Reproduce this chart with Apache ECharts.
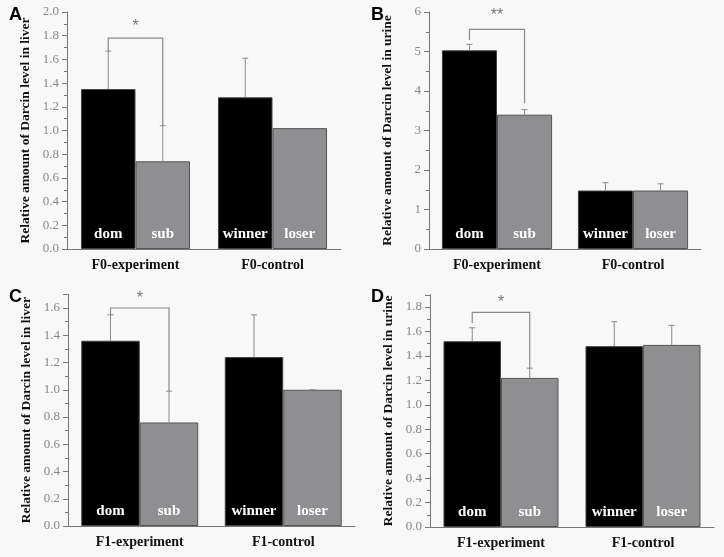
<!DOCTYPE html>
<html><head><meta charset="utf-8">
<script src="https://cdn.jsdelivr.net/npm/echarts@6/dist/echarts.min.js"></script>
<style>html,body{margin:0;padding:0;background:#f8f8f8}#c{width:724px;height:557px}</style>
</head><body><div id="c"></div>
<script>
// ---- data ----
const categoriesF0 = ['F0-experiment', 'F0-control'];
const categoriesF1 = ['F1-experiment', 'F1-control'];
const blackLabels = ['dom', 'winner'];
const grayLabels = ['sub', 'loser'];

// Panel A: F0 liver
const liverF0Black = [1.35, 1.28];
const liverF0BlackErr = [1.67, 1.61];
const liverF0Gray = [0.74, 1.02];
const liverF0GrayErr = [1.04, null];
// Panel B: F0 urine
const urineF0Black = [5.03, 1.48];
const urineF0BlackErr = [5.18, 1.68];
const urineF0Gray = [3.40, 1.48];
const urineF0GrayErr = [3.53, 1.65];
// Panel C: F1 liver
const liverF1Black = [1.36, 1.24];
const liverF1BlackErr = [1.55, 1.55];
const liverF1Gray = [0.76, 1.00];
const liverF1GrayErr = [0.99, 1.00];
// Panel D: F1 urine
const urineF1Black = [1.52, 1.48];
const urineF1BlackErr = [1.63, 1.68];
const urineF1Gray = [1.22, 1.49];
const urineF1GrayErr = [1.30, 1.65];

// significance brackets: [left leg end, right leg end, bracket top, star height]
const bracketA = [1.67, 1.04, 1.78, 1.88];
const bracketB = [5.29, 3.69, 5.56, 5.90];
const bracketC = [1.55, 0.99, 1.60, 1.67];
const bracketD = [1.67, 1.30, 1.757, 1.835];
const starText = ['*', '**', '*', '*'];

// y axis ranges (max, interval, whether the max is a labelled tick)
const yMax = [2.0, 6, 1.7, 1.9];
const yInterval = [0.2, 1, 0.2, 0.2];
const yMaxLabelled = [true, true, false, false];
const yNames = [
  'Relative amount of Darcin level in liver',
  'Relative amount of Darcin level in urine',
  'Relative amount of Darcin level in liver',
  'Relative amount of Darcin level in urine'
];
const panelLetters = ['A', 'B', 'C', 'D'];

// ---- layout ----
const grids = [
  {left: 67, top: 12, width: 274, height: 237},
  {left: 429, top: 12, width: 272, height: 237},
  {left: 68, top: 294.4, width: 287, height: 231.6},
  {left: 430, top: 294.8, width: 284, height: 232.2}
];
const gaps = [0.204, 0.19, 0.185, 0.19];
const letterPos = [[9, 6], [371, 6], [9, 288], [371, 288]];

const panels = [
  {cats: categoriesF0, b: liverF0Black, be: liverF0BlackErr, g: liverF0Gray, ge: liverF0GrayErr, br: bracketA},
  {cats: categoriesF0, b: urineF0Black, be: urineF0BlackErr, g: urineF0Gray, ge: urineF0GrayErr, br: bracketB},
  {cats: categoriesF1, b: liverF1Black, be: liverF1BlackErr, g: liverF1Gray, ge: liverF1GrayErr, br: bracketC},
  {cats: categoriesF1, b: urineF1Black, be: urineF1BlackErr, g: urineF1Gray, ge: urineF1GrayErr, br: bracketD}
];

const serif = 'Liberation Serif';
const option = {
  backgroundColor: '#f8f8f8',
  animation: false,
  grid: grids.map(g => Object.assign({containLabel: false}, g)),
  graphic: panelLetters.map((t, i) => ({
    type: 'text', left: letterPos[i][0], top: letterPos[i][1],
    style: {text: t, font: 'bold 18px Liberation Sans', fill: '#000'}
  })),
  xAxis: [], yAxis: [], series: []
};

panels.forEach((p, i) => {
  option.xAxis.push({
    type: 'category', gridIndex: i, data: p.cats,
    axisLine: {lineStyle: {color: '#777', width: 1}},
    axisTick: {show: false},
    axisLabel: {fontFamily: serif, fontWeight: 'bold', fontSize: 14, color: '#111', margin: 9}
  });
  option.yAxis.push({
    type: 'value', gridIndex: i, min: 0, max: yMax[i], interval: yInterval[i],
    name: yNames[i], nameLocation: 'middle', nameGap: 34, nameRotate: 90,
    nameTextStyle: {fontFamily: serif, fontWeight: 'bold', fontSize: 13.5, color: '#111'},
    axisLine: {show: true, lineStyle: {color: '#777'}},
    axisTick: {show: true, inside: false, length: 5, lineStyle: {color: '#777'}},
    minorTick: {show: true, splitNumber: 2, length: 3, lineStyle: {color: '#777'}},
    splitLine: {show: false},
    axisLabel: {
      fontFamily: serif, fontSize: 13, color: '#888', margin: 8, showMaxLabel: yMaxLabelled[i],
      formatter: v => yInterval[i] === 1 ? String(v) : v.toFixed(1)
    }
  });
  const gap = gaps[i];
  const barLabel = names => ({
    show: true, position: 'insideBottom', distance: 7,
    fontFamily: serif, fontWeight: 'bold', fontSize: 15, color: '#fff',
    formatter: pr => names[pr.dataIndex]
  });
  option.series.push({
    type: 'bar', xAxisIndex: i, yAxisIndex: i, data: p.b, barGap: '0%', barCategoryGap: (gap * 100) + '%',
    itemStyle: {color: '#000', borderColor: '#444', borderWidth: 1},
    label: barLabel(blackLabels), z: 2
  });
  option.series.push({
    type: 'bar', xAxisIndex: i, yAxisIndex: i, data: p.g, barGap: '0%', barCategoryGap: (gap * 100) + '%',
    itemStyle: {color: '#8f8f92', borderColor: '#555', borderWidth: 1},
    label: barLabel(grayLabels), z: 2
  });
  // error bars
  const errData = [];
  p.b.forEach((v, k) => { if (p.be[k] != null) errData.push([k, 0, p.be[k], v]); });
  p.g.forEach((v, k) => { if (p.ge[k] != null) errData.push([k, 1, p.ge[k], v]); });
  option.series.push({
    type: 'custom', xAxisIndex: i, yAxisIndex: i, data: errData, z: 3,
    encode: {x: 0, y: 2},
    renderItem: (params, api) => {
      const c = api.value(0), side = api.value(1), top = api.value(2), val = api.value(3);
      const bw = api.size([1, 0])[0];
      const off = bw * (1 - gap) / 4 * (side ? 1 : -1);
      const p0 = api.coord([c, val]);
      const p1 = api.coord([c, top]);
      const x = p0[0] + off;
      const st = {stroke: '#8a8a8a', lineWidth: 1};
      return {type: 'group', children: [
        {type: 'line', shape: {x1: x, y1: p0[1], x2: x, y2: p1[1]}, style: st},
        {type: 'line', shape: {x1: x - 3, y1: p1[1], x2: x + 3, y2: p1[1]}, style: st}
      ]};
    }
  });
  // significance bracket
  option.series.push({
    type: 'custom', xAxisIndex: i, yAxisIndex: i, data: [[0].concat(p.br)], z: 4,
    encode: {x: 0, y: 3},
    renderItem: (params, api) => {
      const left = api.value(1), right = api.value(2), top = api.value(3), sy = api.value(4);
      const bw = api.size([1, 0])[0];
      const off = bw * (1 - gap) / 4;
      const c = api.coord([0, top]);
      const xl = c[0] - off, xr = c[0] + off;
      const yl = api.coord([0, left])[1], yr = api.coord([0, right])[1];
      const ys = api.coord([0, sy])[1];
      return {type: 'group', children: [
        {type: 'polyline', shape: {points: [[xl, yl], [xl, c[1]], [xr, c[1]], [xr, yr]]},
         style: {stroke: '#8a8a8a', lineWidth: 1.2, fill: null}},
        {type: 'text', x: c[0], y: ys,
         style: {text: starText[i], font: '16px Liberation Sans', fill: '#777', align: 'center', verticalAlign: 'middle'}}
      ]};
    }
  });
});

const chart = echarts.init(document.getElementById('c'));
chart.setOption(option);
</script></body></html>
